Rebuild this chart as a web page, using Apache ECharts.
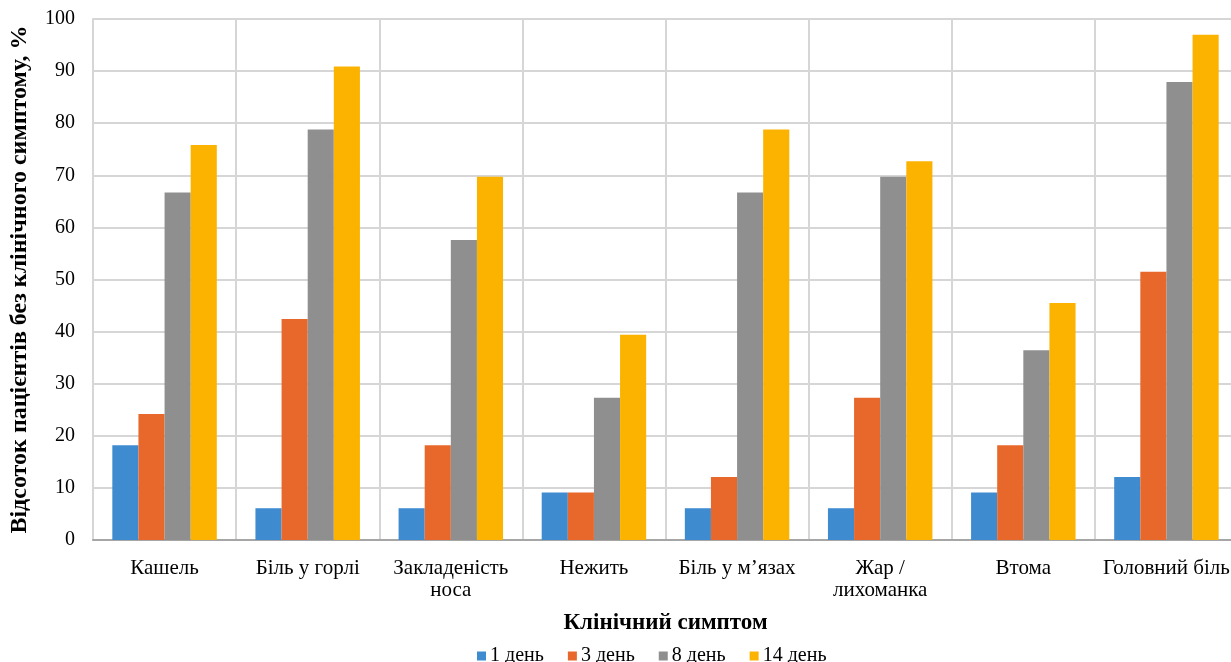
<!DOCTYPE html>
<html>
<head>
<meta charset="utf-8">
<script src="https://cdn.jsdelivr.net/npm/echarts@6/dist/echarts.min.js"></script>
<style>
  html, body { margin: 0; padding: 0; background: #fff; overflow: hidden; }
  /* the canvas is a little wider than the window: the last category runs off the right edge */
  #chart { width: 1240px; height: 662px; }
</style>
</head>
<body>
<div id="chart"></div>
<script>
// Clinical symptoms on the category axis
const categories = ['Кашель', 'Біль у горлі', 'Закладеність\nноса', 'Нежить', 'Біль у м’язах', 'Жар /\nлихоманка', 'Втома', 'Головний біль'];

// Share of patients free of each symptom, %, by day of observation
const day1 = [18.2, 6.1, 6.1, 9.1, 6.1, 6.1, 9.1, 12.1];
const day3 = [24.2, 42.4, 18.2, 9.1, 12.1, 27.3, 18.2, 51.5];
const day8 = [66.7, 78.8, 57.6, 27.3, 66.7, 69.7, 36.4, 87.9];
const day14 = [75.8, 90.9, 69.7, 39.4, 78.8, 72.7, 45.5, 97.0];

const seriesNames = ['1 день', '3 день', '8 день', '14 день'];
const seriesData = [day1, day3, day8, day14];
const colors = ['#3F8BD0', '#E8672A', '#8F8F8F', '#FBB300'];

const serif = '"Liberation Serif", "DejaVu Serif", serif';

const chart = echarts.init(document.getElementById('chart'), null, { renderer: 'canvas' });

chart.setOption({
  animation: false,
  backgroundColor: '#ffffff',
  textStyle: { fontFamily: serif, color: '#000' },
  legend: {
    top: 641,
    left: 472,
    itemWidth: 9,
    itemHeight: 9,
    itemGap: 24,
    icon: 'rect',
    textStyle: { fontFamily: serif, fontSize: 20, color: '#000', padding: [0, 0, 0, -1] },
    data: seriesNames
  },
  grid: {
    left: 92,
    top: 19,
    right: 2,
    height: 521
  },
  xAxis: {
    type: 'category',
    data: categories,
    boundaryGap: true,
    name: 'Клінічний симптом',
    nameLocation: 'middle',
    nameGap: 72,
    nameTextStyle: { fontFamily: serif, fontSize: 23, fontWeight: 'bold', color: '#000' },
    axisLine: { show: true, lineStyle: { color: '#a6a6a6', width: 2 } },
    axisTick: { show: false },
    axisLabel: {
      interval: 0,
      margin: 17,
      fontFamily: serif,
      fontSize: 21,
      color: '#000',
      lineHeight: 22
    },
    splitLine: { show: true, interval: 0, lineStyle: { color: '#d6d6d6', width: 2 } }
  },
  yAxis: {
    type: 'value',
    min: 0,
    max: 100,
    interval: 10,
    name: 'Відсоток пацієнтів без клінічного симптому, %',
    nameLocation: 'middle',
    nameGap: 61,
    nameTextStyle: { fontFamily: serif, fontSize: 24, fontWeight: 'bold', color: '#000' },
    axisLine: { show: true, lineStyle: { color: '#d6d6d6', width: 2 } },
    axisTick: { show: false },
    axisLabel: { fontFamily: serif, fontSize: 20, color: '#000', margin: 18 },
    splitLine: { show: true, lineStyle: { color: '#d6d6d6', width: 2 } }
  },
  series: seriesNames.map((name, i) => ({
    name: name,
    type: 'bar',
    data: seriesData[i],
    barGap: '0%',
    barCategoryGap: '27%',
    itemStyle: { color: colors[i] }
  }))
});
</script>
</body>
</html>
